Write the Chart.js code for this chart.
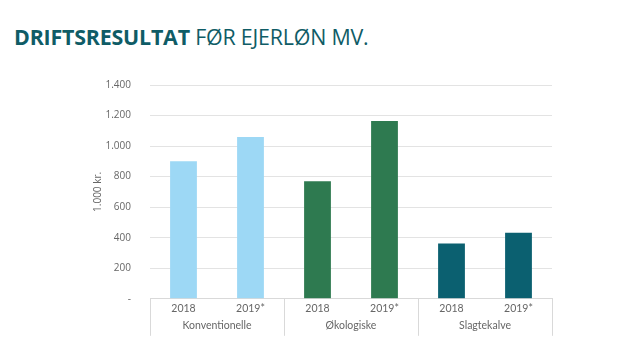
<!DOCTYPE html>
<html>
<head>
<meta charset="utf-8">
<script src="https://cdn.jsdelivr.net/npm/chart.js@4"></script>
<style>
  body { margin: 0; background: #fff; }
  #title { position: absolute; left: 14px; top: 22px; font-family: "Open Sans", sans-serif; font-size: 21.4px; color: #0f5c66; letter-spacing: -0.2px; }
  #title b { font-weight: 700; }
  #wrap { position: absolute; left: 0; top: 0; width: 640px; height: 363px; }
</style>
</head>
<body>
<div id="title"><b>DRIFTSRESULTAT</b> FØR EJERLØN MV.</div>
<div id="wrap"><canvas id="chart"></canvas></div>
<script>
// data
var years = ["2018", "2019*", "2018", "2019*", "2018", "2019*"];
var groups = ["Konventionelle", "Økologiske", "Slagtekalve"];
var values = [900, 1060, 770, 1165, 362, 432];
var yTicks = [0, 200, 400, 600, 800, 1000, 1200, 1400];

var groupColors = ["#9dd8f5", "#2e7a50", "#0b6070"];
var barColors = years.map(function (y, i) { return groupColors[Math.floor(i / 2)]; });

function fmt(v) {
    if (v === 0) return "-";
    return String(v).replace(/\B(?=(\d{3})+(?!\d))/g, ".");
}

// draws the vertical separators between the groups under the axis
var separators = {
    id: 'separators',
    afterDraw: function (chart) {
        var ctx = chart.ctx;
        var x = chart.scales.x;
        var area = chart.chartArea;
        var step = (x.right - x.left) / years.length;
        ctx.save();
        ctx.strokeStyle = '#d9d9d9';
        ctx.lineWidth = 1;
        for (var i = 0; i <= years.length; i += 2) {
            var px = Math.round(x.left + step * i) + 0.5;
            ctx.beginPath();
            ctx.moveTo(px, area.bottom);
            ctx.lineTo(px, area.bottom + 37);
            ctx.stroke();
        }
        ctx.restore();
    }
};

new Chart(document.getElementById("chart"), {
    type: 'bar',
    data: {
        labels: years,
        datasets: [
            {
                data: values,
                backgroundColor: barColors,
                barPercentage: 0.8,
                categoryPercentage: 0.5
            }
        ]
    },
    options: {
        responsive: true,
        maintainAspectRatio: false,
        animation: false,
        layout: { padding: { left: 88, right: 88, top: 85, bottom: 31 } },
        plugins: {
            legend: { display: false },
            tooltip: { enabled: false }
        },
        scales: {
            y: {
                min: 0,
                max: 1400,
                afterBuildTicks: function (axis) {
                    axis.ticks = yTicks.map(function (v) { return { value: v }; });
                },
                afterFit: function (axis) { axis.width = 62; },
                ticks: {
                    callback: function (v) { return fmt(v); },
                    color: '#666',
                    font: { family: 'Open Sans', size: 10 },
                    padding: 19
                },
                grid: { color: '#e3e3e3', drawTicks: false },
                border: { display: false },
                title: {
                    display: true,
                    text: '1.000 kr.',
                    color: '#666',
                    font: { family: 'Open Sans', size: 10 }
                }
            },
            x: {
                ticks: {
                    color: '#666',
                    font: { family: 'Lato', size: 10.5 },
                    padding: 4
                },
                grid: { display: false, drawTicks: false },
                border: { display: true, color: '#d9d9d9' }
            },
            x2: {
                type: 'category',
                labels: groups,
                offset: true,
                position: 'bottom',
                ticks: {
                    color: '#666',
                    font: { family: 'Lato', size: 10.5 },
                    padding: 0
                },
                grid: { display: false, drawTicks: false },
                border: { display: false }
            }
        }
    },
    plugins: [separators]
});
</script>
</body>
</html>
